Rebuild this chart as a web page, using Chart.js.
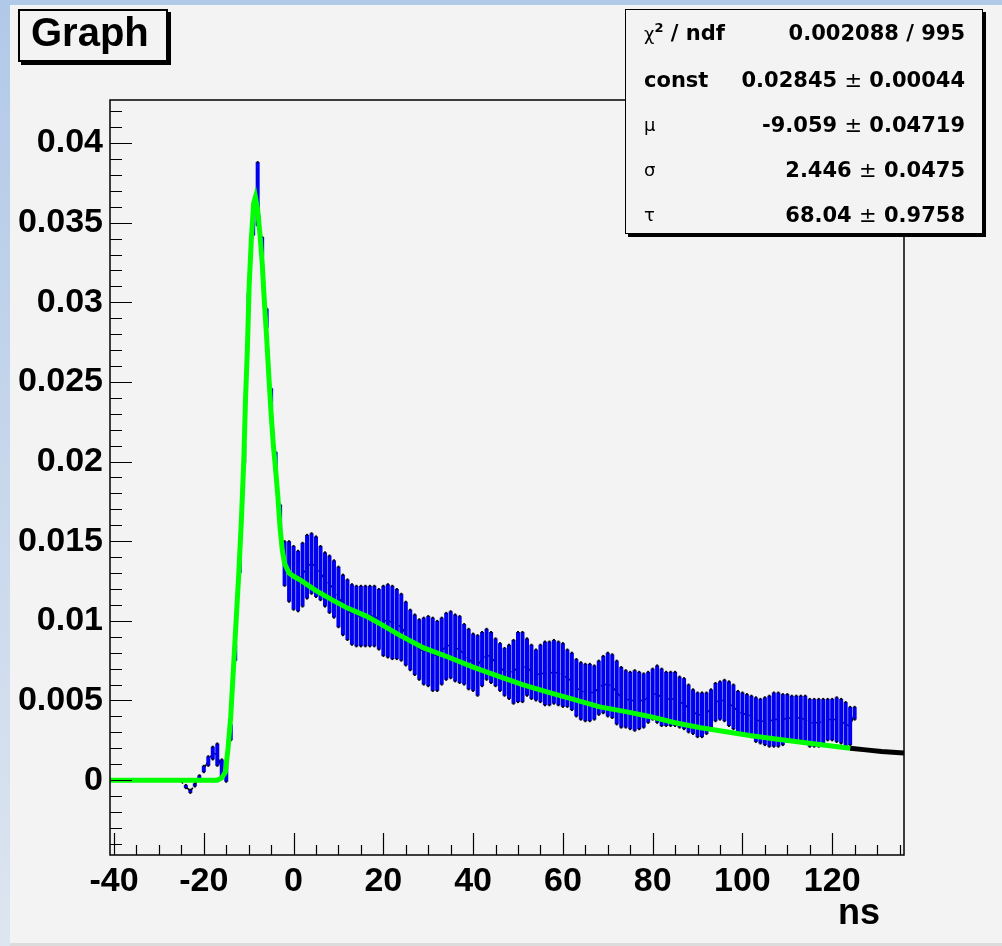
<!DOCTYPE html>
<html>
<head>
<meta charset="utf-8">
<script src="https://cdn.jsdelivr.net/npm/chart.js@4.4.1/dist/chart.umd.min.js"></script>
<style>
html, body { margin: 0; padding: 0; }
body { width: 1002px; height: 946px; position: relative; overflow: hidden; background: #f3f3f3; font-family: 'Liberation Sans', Arial, sans-serif; }
#topStrip { position: absolute; left: 0; top: 0; width: 1002px; height: 5px; background: #b1c9e8; }
#leftStrip { position: absolute; left: 0; top: 0; width: 10px; height: 946px; background: linear-gradient(#b1c9e8, #dde5f0); }
#bottomStrip { position: absolute; left: 10px; bottom: 0; width: 992px; height: 3px; background: #dcdcdc; }
canvas { position: absolute; left: 0; top: 0; }
#title { position: absolute; left: 18px; top: 9px; width: 135px; height: 49px; padding-left: 11px; border: 2px solid #000; box-shadow: 3px 3px 0 #000; background: #f3f3f3; font: bold 40px 'Liberation Sans', Arial, sans-serif; line-height: 42px; }
#stats { position: absolute; left: 625px; top: 9px; width: 356px; height: 223px; border: 1px solid #000; box-shadow: 3px 3px 0 #000; background: #f3f3f3; font-family: 'DejaVu Sans', sans-serif; font-size: 21px; font-weight: bold; }
#stats .row { position: absolute; left: 0; width: 356px; height: 24px; line-height: 24px; }
#stats .lab { position: absolute; left: 18px; }
#stats .val { position: absolute; right: 17px; }
#stats .g { font-weight: normal; font-size: 18px; }
#stats .pm { font-weight: normal; }
#stats sup { font-size: 13px; line-height: 0; }
#xtitle { position: absolute; right: 122px; top: 892px; font: bold 36px 'Liberation Sans', Arial, sans-serif; line-height: 40px; }
</style>
</head>
<body>
<div id="topStrip"></div>
<div id="leftStrip"></div>
<div id="bottomStrip"></div>
<canvas id="graph" width="1002" height="946"></canvas>
<div id="title">Graph</div>
<div id="stats">
  <div class="row" style="top:11px"><span class="lab"><span class="g">χ</span><sup>2</sup> / ndf</span><span class="val">0.002088 / 995</span></div>
  <div class="row" style="top:58px"><span class="lab">const</span><span class="val">0.02845 <span class="pm">±</span> 0.00044</span></div>
  <div class="row" style="top:103px"><span class="lab g">μ</span><span class="val">-9.059 <span class="pm">±</span> 0.04719</span></div>
  <div class="row" style="top:148px"><span class="lab g">σ</span><span class="val">2.446 <span class="pm">±</span> 0.0475</span></div>
  <div class="row" style="top:193px"><span class="lab g">τ</span><span class="val">68.04 <span class="pm">±</span> 0.9758</span></div>
</div>
<div id="xtitle">ns</div>
<script>
// axis ticks and labels
const xTicks = [-40, -20, 0, 20, 40, 60, 80, 100, 120];
const xTickLabels = ['-40', '-20', '0', '20', '40', '60', '80', '100', '120'];
const yTicks = [0, 0.005, 0.01, 0.015, 0.02, 0.025, 0.03, 0.035, 0.04];
const yTickLabels = ['0', '0.005', '0.01', '0.015', '0.02', '0.025', '0.03', '0.035', '0.04'];

// measured points (ns)
const dataX = [
  -40, -39, -38, -37, -36, -35, -34, -33, -32, -31,
  -30, -29, -28, -27, -26, -25, -24, -23, -22, -21,
  -20, -19, -18, -17, -16, -15, -14, -13, -12, -11,
  -10, -9, -8, -7, -6, -5, -4, -3, -2, -1,
  0, 1, 2, 3, 4, 5, 6, 7, 8, 9,
  10, 11, 12, 13, 14, 15, 16, 17, 18, 19,
  20, 21, 22, 23, 24, 25, 26, 27, 28, 29,
  30, 31, 32, 33, 34, 35, 36, 37, 38, 39,
  40, 41, 42, 43, 44, 45, 46, 47, 48, 49,
  50, 51, 52, 53, 54, 55, 56, 57, 58, 59,
  60, 61, 62, 63, 64, 65, 66, 67, 68, 69,
  70, 71, 72, 73, 74, 75, 76, 77, 78, 79,
  80, 81, 82, 83, 84, 85, 86, 87, 88, 89,
  90, 91, 92, 93, 94, 95, 96, 97, 98, 99,
  100, 101, 102, 103, 104, 105, 106, 107, 108, 109,
  110, 111, 112, 113, 114, 115, 116, 117, 118, 119,
  120, 121, 122, 123, 124, 125
];
const dataY = [
  0, 0, 0, 0, 0, 0, 0, 0, 0, 0,
  0, 0, 0, 0, 0, -0.0001, -0.0004, -0.0007, -0.0003, 0.0002,
  0.0007, 0.0012, 0.0017, 0.0016, 0.0007, 0.0005, 0.0030, 0.0080, 0.0135, 0.0205,
  0.0300, 0.0350, 0.0368, 0.0335, 0.0290, 0.0240, 0.0200, 0.0165, 0.0136, 0.0131,
  0.0127, 0.0125, 0.0129, 0.0134, 0.0136, 0.0134, 0.0130, 0.0126, 0.0123, 0.0120,
  0.0115, 0.0110, 0.0107, 0.0104, 0.0103, 0.0103, 0.0103, 0.0103, 0.0103, 0.0101,
  0.0100, 0.0100, 0.0099, 0.0098, 0.0096, 0.0092, 0.0088, 0.0085, 0.0082, 0.0081,
  0.0081, 0.0079, 0.0078, 0.0081, 0.0084, 0.0085, 0.0083, 0.0082, 0.0079, 0.0076,
  0.0074, 0.0072, 0.0076, 0.0079, 0.0077, 0.0074, 0.0071, 0.0068, 0.0068, 0.0068,
  0.0071, 0.0071, 0.0071, 0.0068, 0.0066, 0.0067, 0.0067, 0.0067, 0.0068, 0.0067,
  0.0066, 0.0064, 0.0062, 0.0058, 0.0056, 0.0055, 0.0055, 0.0055, 0.0058, 0.0060,
  0.0060, 0.0059, 0.0055, 0.0052, 0.0051, 0.0050, 0.0050, 0.0050, 0.0050, 0.0052,
  0.0054, 0.0054, 0.0052, 0.0051, 0.0051, 0.0051, 0.0049, 0.0048, 0.0045, 0.0043,
  0.0041, 0.0041, 0.0042, 0.0045, 0.0049, 0.0050, 0.0050, 0.0048, 0.0046, 0.0043,
  0.0042, 0.0041, 0.0040, 0.0038, 0.0037, 0.0037, 0.0037, 0.0038, 0.0038, 0.0038,
  0.0039, 0.0039, 0.0039, 0.0039, 0.0038, 0.0036, 0.0036, 0.0036, 0.0037, 0.0038,
  0.0038, 0.0038, 0.0037, 0.0035, 0.0034, 0.0042
];
const dataErr = [
  0, 0, 0, 0, 0, 0, 0, 0, 0, 0,
  0, 0, 0, 0, 0, 0, 0.0001, 0.0001, 0.0001, 0.0001,
  0.0002, 0.0003, 0.0004, 0.0007, 0.0006, 0.0006, 0.0005, 0.0005, 0.0005, 0.0006,
  0.0006, 0.0008, 0.0020, 0.0006, 0.0006, 0.0006, 0.0006, 0.0008, 0.0014, 0.0019,
  0.0020, 0.0019, 0.0020, 0.0020, 0.0019, 0.0019, 0.0017, 0.0017, 0.0018, 0.0018,
  0.0019, 0.0019, 0.0019, 0.0019, 0.0019, 0.0019, 0.0019, 0.0019, 0.0019, 0.0019,
  0.0022, 0.0023, 0.0023, 0.0022, 0.0021, 0.0020, 0.0019, 0.0019, 0.0019, 0.0021,
  0.0022, 0.0023, 0.0022, 0.0021, 0.0021, 0.0021, 0.0021, 0.0021, 0.0019, 0.0019,
  0.0018, 0.0019, 0.0017, 0.0016, 0.0016, 0.0015, 0.0015, 0.0015, 0.0017, 0.0020,
  0.0022, 0.0022, 0.0018, 0.0017, 0.0016, 0.0018, 0.0020, 0.0020, 0.0020, 0.0020,
  0.0020, 0.0018, 0.0018, 0.0018, 0.0018, 0.0018, 0.0018, 0.0017, 0.0017, 0.0018,
  0.0020, 0.0020, 0.0020, 0.0019, 0.0018, 0.0018, 0.0019, 0.0018, 0.0017, 0.0016,
  0.0016, 0.0018, 0.0018, 0.0017, 0.0017, 0.0017, 0.0016, 0.0016, 0.0015, 0.0014,
  0.0014, 0.0014, 0.0013, 0.0012, 0.0012, 0.0012, 0.0013, 0.0014, 0.0014, 0.0013,
  0.0013, 0.0013, 0.0013, 0.0014, 0.0014, 0.0015, 0.0016, 0.0017, 0.0017, 0.0016,
  0.0015, 0.0014, 0.0014, 0.0014, 0.0015, 0.0015, 0.0015, 0.0015, 0.0014, 0.0013,
  0.0013, 0.0014, 0.0014, 0.0014, 0.0012, 0.0004
];

// fit curve (green inside fit range, black beyond)
const fitX = [-41, -17, -16, -15.2, -14.6, -14.0, -13.4, -12.8, -12.2, -11.6, -11.1, -10.7, -10.3, -9.9, -9.4, -8.9, -8.5,
  -8.0, -7.5, -7.0, -6.5, -6.0, -5.5, -5.0, -4.5, -4.0, -3.5, -3.0, -2.5, -2.0, -1.0, 0, 1.3, 5, 8.7, 12, 16.2,
  20, 23.6, 29, 34.7, 40, 45.9, 51, 57, 62, 68.2, 74, 79.3, 85, 90.4, 96, 101.6, 107, 112.7, 118, 124];
const fitY = [0, 0, 0.00015, 0.0005, 0.0020, 0.0040, 0.0070, 0.0100, 0.0130, 0.0165, 0.0200, 0.0240, 0.0270, 0.0310, 0.0340, 0.0362, 0.0366,
  0.0358, 0.0343, 0.0325, 0.0300, 0.0278, 0.0253, 0.0230, 0.0210, 0.0195, 0.0178, 0.0158, 0.0144, 0.0136, 0.0130, 0.0128, 0.0126, 0.0119, 0.0113, 0.0108, 0.0103,
  0.0097, 0.0091, 0.0083, 0.0077, 0.0071, 0.0065, 0.0060, 0.0055, 0.0051, 0.0046, 0.0043, 0.0040, 0.0036, 0.0033, 0.00305, 0.0028, 0.0026, 0.0024, 0.0022, 0.0020];
const tailX = [124, 127.5, 131, 136];
const tailY = [0.0020, 0.0019, 0.0018, 0.0017];

const pts = (xs, ys) => xs.map((x, i) => ({ x: x, y: ys[i] }));

// blue error bars, drawn right after the data line
const errorBars = {
    id: 'errorBars',
    afterDatasetDraw(chart, args) {
        if (args.index !== 2) return;
        const { ctx, chartArea: a, scales: { x, y } } = chart;
        ctx.save();
        ctx.beginPath();
        ctx.rect(a.left, a.top, a.right - a.left, a.bottom - a.top);
        ctx.clip();
        for (let i = 0; i < dataX.length; i++) {
            if (!dataErr[i]) continue;
            const px = x.getPixelForValue(dataX[i]);
            const top = y.getPixelForValue(dataY[i] + dataErr[i]);
            const bot = y.getPixelForValue(dataY[i] - dataErr[i]);
            ctx.strokeStyle = '#0000f0';
            ctx.lineWidth = 4;
            ctx.beginPath();
            ctx.moveTo(px, top);
            ctx.lineTo(px, bot);
            ctx.stroke();
            ctx.fillStyle = '#000';
            ctx.fillRect(px - 1, top - 1, 2, 2);
            ctx.fillRect(px - 1, bot - 1, 2, 2);
        }
        ctx.restore();
    }
};

// ROOT style frame with inward ticks
const frameTicks = {
    id: 'frameTicks',
    afterDatasetsDraw(chart) {
        const { ctx, chartArea: a, scales: { x, y } } = chart;
        ctx.save();
        ctx.strokeStyle = '#000';
        ctx.lineWidth = 1.5;
        ctx.strokeRect(a.left, a.top, a.right - a.left, a.bottom - a.top);
        ctx.lineWidth = 1.2;
        ctx.beginPath();
        for (let v = -0.004; v <= 0.0425; v += 0.001) {
            const py = Math.round(y.getPixelForValue(v)) + 0.5;
            const major = Math.abs(v / 0.005 - Math.round(v / 0.005)) < 1e-6;
            ctx.moveTo(a.left, py);
            ctx.lineTo(a.left + (major ? 22 : 12), py);
        }
        for (let v = -40; v <= 135; v += 5) {
            const px = Math.round(x.getPixelForValue(v)) + 0.5;
            ctx.moveTo(px, a.bottom);
            ctx.lineTo(px, a.bottom - (v % 20 === 0 ? 22 : 10));
        }
        ctx.stroke();
        ctx.restore();
    }
};

const tickFont = { family: "'Liberation Sans', Arial, sans-serif", weight: 'bold', size: 34 };

new Chart(document.getElementById('graph'), {
    type: 'line',
    data: {
        datasets: [
            {
                label: 'fit',
                data: pts(fitX, fitY),
                borderColor: '#00ff00',
                borderWidth: 5,
                pointRadius: 0,
                tension: 0
            },
            {
                label: 'fit tail',
                data: pts(tailX, tailY),
                borderColor: '#000',
                borderWidth: 5,
                pointRadius: 0,
                tension: 0
            },
            {
                label: 'Graph',
                data: pts(dataX, dataY),
                borderColor: '#000',
                borderWidth: 1.5,
                borderDash: [10, 5],
                pointRadius: 0,
                tension: 0
            }
        ]
    },
    options: {
        responsive: false,
        animation: false,
        devicePixelRatio: 1,
        layout: { padding: { left: 0, top: 100, right: 98, bottom: 0 } },
        plugins: {
            legend: { display: false },
            tooltip: { enabled: false }
        },
        scales: {
            x: {
                type: 'linear',
                min: -40.9,
                max: 136,
                afterBuildTicks: s => { s.ticks = xTicks.map(v => ({ value: v })); },
                afterFit: s => { s.height = 91; },
                ticks: {
                    callback: v => xTickLabels[xTicks.indexOf(v)],
                    font: tickFont,
                    color: '#000',
                    padding: 6,
                    maxRotation: 0,
                    minRotation: 0,
                    autoSkip: false
                },
                grid: { display: false, drawTicks: false },
                border: { display: false }
            },
            y: {
                type: 'linear',
                min: -0.0047,
                max: 0.0427,
                afterBuildTicks: s => { s.ticks = yTicks.map(v => ({ value: v })); },
                afterFit: s => { s.width = 110; },
                ticks: {
                    callback: v => yTickLabels[yTicks.indexOf(v)],
                    font: tickFont,
                    color: '#000',
                    padding: 7,
                    autoSkip: false
                },
                grid: { display: false, drawTicks: false },
                border: { display: false }
            }
        }
    },
    plugins: [errorBars, frameTicks]
});
</script>
</body>
</html>
